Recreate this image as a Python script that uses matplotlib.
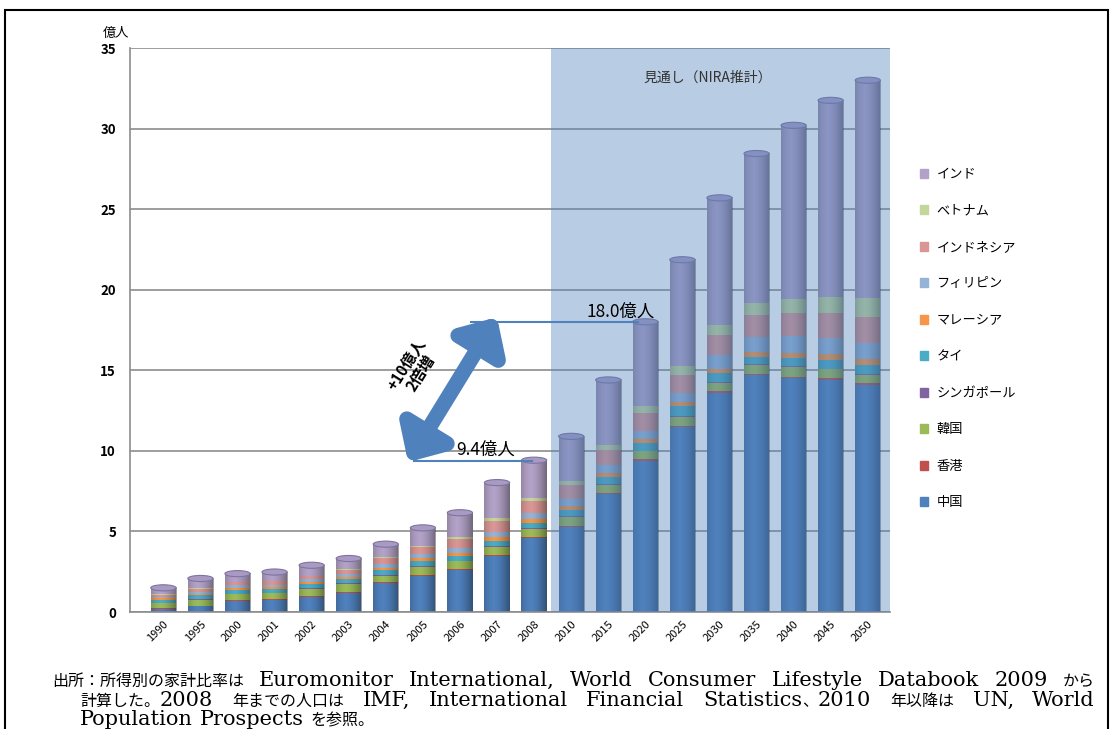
import numpy as np
import matplotlib
matplotlib.use('Agg')
from matplotlib import pyplot as plt
from matplotlib.patches import Ellipse, Patch, Rectangle

plt.rcParams['font.family'] = ['Noto Sans CJK JP', 'DejaVu Sans']

years = ['1990', '1995', '2000', '2001', '2002', '2003', '2004', '2005', '2006', '2007',
         '2008', '2010', '2015', '2020', '2025', '2030', '2035', '2040', '2045', '2050']

# 億人, stacked bottom -> top
china = [0.20, 0.35, 0.70, 0.75, 0.95, 1.20, 1.80, 2.25, 2.60, 3.50,
         4.60, 5.30, 7.35, 9.40, 11.50, 13.60, 14.70, 14.50, 14.40, 14.10]
hongkong = [0.05, 0.05, 0.05, 0.05, 0.05, 0.05, 0.05, 0.06, 0.06, 0.06,
            0.06, 0.06, 0.06, 0.07, 0.07, 0.10, 0.10, 0.10, 0.10, 0.10]
korea = [0.30, 0.35, 0.35, 0.35, 0.45, 0.50, 0.40, 0.50, 0.50, 0.50,
         0.50, 0.55, 0.50, 0.50, 0.55, 0.50, 0.55, 0.60, 0.55, 0.50]
singapore = [0.02, 0.03, 0.03, 0.03, 0.03, 0.03, 0.03, 0.03, 0.03, 0.04,
             0.04, 0.04, 0.04, 0.04, 0.04, 0.05, 0.05, 0.05, 0.05, 0.05]
thailand = [0.20, 0.25, 0.25, 0.25, 0.25, 0.25, 0.30, 0.30, 0.30, 0.30,
            0.35, 0.40, 0.40, 0.45, 0.60, 0.60, 0.45, 0.50, 0.55, 0.60]
malaysia = [0.08, 0.10, 0.12, 0.12, 0.12, 0.15, 0.15, 0.20, 0.20, 0.25,
            0.25, 0.25, 0.30, 0.30, 0.25, 0.20, 0.30, 0.30, 0.35, 0.35]
philippines = [0.08, 0.12, 0.15, 0.15, 0.17, 0.20, 0.25, 0.25, 0.30, 0.30,
               0.37, 0.40, 0.45, 0.50, 0.60, 0.90, 0.90, 1.05, 1.00, 1.00]
indonesia = [0.15, 0.20, 0.20, 0.20, 0.20, 0.25, 0.37, 0.45, 0.55, 0.70,
             0.70, 0.90, 0.95, 1.10, 1.10, 1.25, 1.40, 1.45, 1.55, 1.60]
vietnam = [0.02, 0.03, 0.03, 0.03, 0.03, 0.04, 0.06, 0.08, 0.12, 0.18,
           0.20, 0.20, 0.30, 0.45, 0.55, 0.60, 0.70, 0.85, 1.00, 1.20]
india = [0.40, 0.60, 0.50, 0.55, 0.65, 0.65, 0.80, 1.10, 1.50, 2.20,
         2.35, 2.80, 4.05, 5.20, 6.60, 7.90, 9.30, 10.80, 12.20, 13.50]

series = [('中国', china, '#4f81bd'),
          ('香港', hongkong, '#c0504d'),
          ('韓国', korea, '#9bbb59'),
          ('シンガポール', singapore, '#8064a2'),
          ('タイ', thailand, '#4bacc6'),
          ('マレーシア', malaysia, '#f79646'),
          ('フィリピン', philippines, '#95b3d7'),
          ('インドネシア', indonesia, '#d99694'),
          ('ベトナム', vietnam, '#c3d69b'),
          ('インド', india, '#b3a2c7')]

label_2008 = 9.4
label_2020 = 18.0

fig = plt.figure(figsize=(11.16, 7.29), dpi=100)
ax = fig.add_axes([130 / 1116, 1 - 612 / 729, 760 / 1116, 564 / 729])

x = np.arange(len(years))
w = 0.68
bottom = np.zeros(len(years))
for name, vals, col in series:
    ax.bar(x, vals, w, bottom=bottom, color=col, label=name, zorder=2, linewidth=0)
    bottom += np.array(vals)
totals = bottom

# cylinder shading and top caps
t = np.linspace(0, 1, 60)
shade = np.zeros((1, 60, 4))
shade[0, :, 3] = 0.38 * (np.abs(t - 0.38) / 0.62) ** 1.6
for xi, h in zip(x, totals):
    ax.imshow(shade, extent=(xi - w / 2, xi + w / 2, 0, h), aspect='auto',
              interpolation='bilinear', zorder=2.5)
    ax.add_patch(Ellipse((xi, h), w, 0.38, facecolor='#a89ac2', edgecolor='#7e74a0',
                         linewidth=0.8, zorder=3))

ax.set_xlim(-0.9, 19.6)
ax.set_ylim(0, 35)

# forecast region
ax.axvspan(10.46, 19.6, color='#4f81bd', alpha=0.4, zorder=4, linewidth=0)
ax.text(12.95, 32.9, '見通し（NIRA推計）', fontsize=10, color='#333333', zorder=6)

ax.set_yticks(range(0, 36, 5))
ax.yaxis.grid(True, color='#8c8c8c', linewidth=1.2, zorder=0.5)
ax.set_axisbelow(True)
ax.tick_params(axis='y', length=0, pad=10, labelsize=9.5)
for lab in ax.get_yticklabels():
    lab.set_fontweight('bold')
ax.set_xticks(x)
ax.set_xticklabels(years, rotation=45, ha='right', rotation_mode='anchor', fontsize=8)
ax.tick_params(axis='x', length=0, pad=5)
for s in ['top', 'right']:
    ax.spines[s].set_visible(False)
ax.spines['left'].set_color('#8c8c8c')
ax.spines['bottom'].set_color('#8c8c8c')
ax.spines['left'].set_linewidth(1.2)
ax.spines['bottom'].set_linewidth(1.2)

fig.text(103 / 1116, 1 - 33 / 729, '億人', fontsize=9.5, va='center')

# growth markers
ax.plot([8.3, 12.8], [label_2020, label_2020], color='#4f81bd', lw=1.5, zorder=5)
ax.text(11.4, label_2020 + 0.35, f'{label_2020:.1f}億人', fontsize=12.5, zorder=6)
ax.plot([6.75, 9.95], [label_2008, label_2008], color='#4f81bd', lw=1.5, zorder=5)
ax.text(7.9, label_2008 + 0.35, f'{label_2008:.1f}億人', fontsize=12.5, zorder=6)
ax.annotate('', xy=(9.0, 18.3), xytext=(6.6, 9.3),
            arrowprops=dict(arrowstyle='<|-|>,head_length=0.9,head_width=0.85',
                            lw=11, color='#4f81bd', mutation_scale=20,
                            shrinkA=0, shrinkB=0), zorder=5)
ax.text(6.75, 15.1, '+10億人\n2倍増', rotation=58, fontsize=11, fontweight='bold',
        ha='center', va='center', linespacing=1.15, zorder=6)

handles = [Patch(color=col) for name, vals, col in series][::-1]
labels = [name for name, vals, col in series][::-1]
fig.legend(handles, labels, loc='upper left', bbox_to_anchor=(908 / 1116, 1 - 156 / 729),
           frameon=False, fontsize=9.5, handlelength=0.65, handleheight=0.65,
           handletextpad=0.6, labelspacing=1.78)

# source note, justified like the printed page: words are spread to fill the line
jp = dict(family=['Noto Sans CJK JP', 'DejaVu Sans'], fontsize=11.5)
lat = dict(family=['DejaVu Serif', 'Noto Sans CJK JP'], fontsize=15)
note_lines = [
    (52, 686, True, [[('出所：所得別の家計比率は', jp)], [('Euromonitor', lat)],
                     [('International,', lat)], [('World', lat)], [('Consumer', lat)],
                     [('Lifestyle', lat)], [('Databook', lat)], [('2009', lat)],
                     [('から', jp)]]),
    (80, 706, True, [[('計算した。', jp), ('2008', lat)], [('年までの人口は', jp)],
                     [('IMF,', lat)], [('International', lat)], [('Financial', lat)],
                     [('Statistics', lat), ('、', jp), ('2010', lat)], [('年以降は', jp)],
                     [('UN,', lat)], [('World', lat)]]),
    (80, 725, False, [[('Population', lat)], [('Prospects', lat)], [('を参照。', jp)]]),
]
right_edge = 1095
renderer = fig.canvas.get_renderer()
for px, py, justify, words in note_lines:
    placed = []
    for word in words:
        group = []
        for s, props in word:
            txt = fig.text(0, 1 - py / 729, s, va='baseline', **props)
            group.append((txt, txt.get_window_extent(renderer).width))
        placed.append(group)
    used = sum(wd for group in placed for _, wd in group)
    gap = (right_edge - px - used) / (len(placed) - 1) if justify else 7
    cur = px
    for group in placed:
        for txt, wd in group:
            txt.set_x(cur / 1116)
            cur += wd
        cur += gap

fig.patches.append(Rectangle((5 / 1116, -0.1), 1103 / 1116, 1.1 - 10 / 729,
                             transform=fig.transFigure, fill=False,
                             edgecolor='black', linewidth=1.5))

fig.savefig('out.png', dpi=100)
